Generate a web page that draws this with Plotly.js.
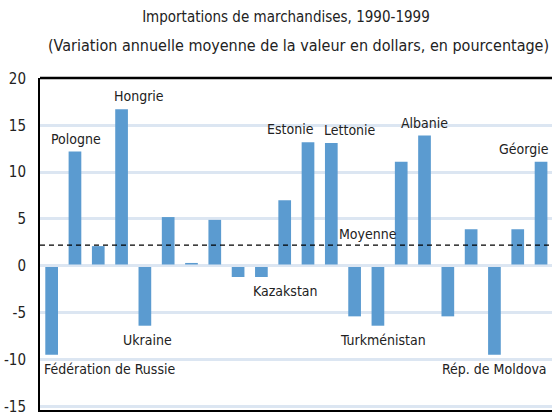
<!DOCTYPE html>
<html>
<head>
<meta charset="utf-8">
<script src="https://cdn.plot.ly/plotly-3.0.1.min.js"></script>
<style>html,body{margin:0;padding:0;background:#fff;}#chart{width:552px;height:414px;}</style>
</head>
<body>
<div id="chart"></div>
<script>
// Data
const positions = [1,2,3,4,5,6,7,8,9,10,11,12,13,14,15,16,17,18,19,20,21,22];
const values = [-9.5, 12.2, 2.1, 16.7, -6.4, 5.2, 0.3, 4.9, -1.2, -1.2, 7.0, 13.2, 13.1, -5.4, -6.4, 11.1, 13.9, -5.4, 3.9, -9.5, 3.9, 11.1];
const labels = ["Fédération de Russie", "Pologne", "", "Hongrie", "Ukraine", "", "", "", "", "Kazakstan", "", "Estonie", "Lettonie", "", "Turkménistan", "", "Albanie", "", "", "Rép. de Moldova", "", "Géorgie"];
const average = 2.2;
const averageLabel = "Moyenne";
const yTicks = [-15, -10, -5, 0, 5, 10, 15, 20];
const titleText = "Importations de marchandises, 1990-1999";
const subtitleText = "(Variation annuelle moyenne de la valeur en dollars, en pourcentage)";

// Styling / placement (not data)
const FONT = '"DejaVu Sans Condensed", "Liberation Sans", sans-serif';
const labelXShift = {0: -10, 1: 1, 3: 17, 4: 3, 9: 24, 11: -18, 12: 19, 14: 5, 16: 0, 19: 0, 21: -17};

const annotations = [];
labels.forEach((t, i) => {
  if (!t) return;
  const v = values[i];
  const pos = v >= 0;
  annotations.push({
    x: positions[i], y: v, xref: 'x', yref: 'y',
    text: t, showarrow: false,
    xanchor: i === 0 ? 'left' : 'center',
    yanchor: pos ? 'bottom' : 'top',
    xshift: labelXShift[i] || 0,
    yshift: pos ? 3 : -4,
    font: {family: FONT, size: 14, color: '#222'}
  });
});
annotations.push({
  x: 14.5, y: average, xref: 'x', yref: 'y', text: averageLabel, showarrow: false,
  xanchor: 'center', yanchor: 'bottom', xshift: 2, yshift: 1,
  font: {family: FONT, size: 14, color: '#222'}
});
annotations.push({
  x: 0.5, y: (410 - 45) / 332, xref: 'paper', yref: 'paper', text: subtitleText, showarrow: false,
  xanchor: 'center', yanchor: 'middle', xshift: 2,
  font: {family: FONT, size: 16, color: '#222'}
});

const trace = {
  type: 'bar', x: positions, y: values,
  marker: {color: '#5b9bd0', line: {width: 0}},
  hoverinfo: 'none'
};

const layout = {
  width: 552, height: 414,
  margin: {l: 40, r: 0, t: 78, b: 4, pad: 0},
  paper_bgcolor: '#fff', plot_bgcolor: '#fff',
  showlegend: false,
  bargap: 0.455,
  title: {text: titleText, x: 0.518, xanchor: 'center', xref: 'container', y: 1 - 17/414, yanchor: 'middle', yref: 'container',
          font: {family: FONT, size: 15, color: '#222'}},
  xaxis: {range: [0.5, 22.47], showticklabels: false, ticks: '', showgrid: false, zeroline: false,
          showline: true, linecolor: '#000', linewidth: 2, fixedrange: true},
  yaxis: {range: [-15.4, 20.05], tickvals: yTicks, ticktext: yTicks.map(String), ticks: '', ticklabelstandoff: 9,
          ticklabeloverflow: 'allow',
          tickfont: {family: FONT, size: 15, color: '#222'},
          showgrid: true, gridcolor: '#dce6f2', gridwidth: 3, zeroline: false,
          showline: true, linecolor: '#000', linewidth: 2, fixedrange: true},
  shapes: [
    {type: 'line', xref: 'paper', yref: 'paper', x0: 0, x1: 1, y0: 1, y1: 1, line: {color: '#000', width: 2.5}},
    {type: 'line', xref: 'paper', yref: 'y', x0: 0, x1: 1, y0: 0, y1: 0, layer: 'above', line: {color: '#dce6f2', width: 2.5}},
    {type: 'line', xref: 'paper', yref: 'y', x0: 0, x1: 1, y0: average, y1: average, layer: 'above', line: {color: '#000', width: 1.2, dash: '5px,4px'}}
  ],
  annotations: annotations
};

Plotly.newPlot('chart', [trace], layout, {staticPlot: true, displayModeBar: false});
</script>
</body>
</html>
